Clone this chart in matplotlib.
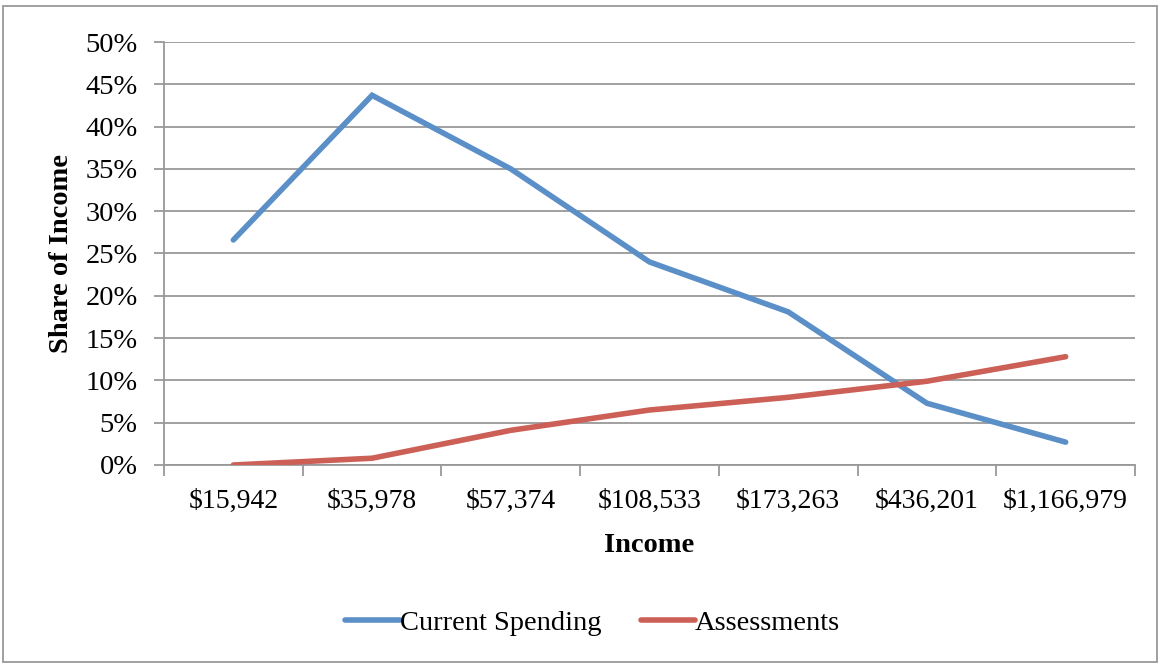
import matplotlib.pyplot as plt
from matplotlib.patches import Rectangle
from matplotlib.ticker import FixedLocator, PercentFormatter

# data
incomes = ["$15,942", "$35,978", "$57,374", "$108,533", "$173,263", "$436,201", "$1,166,979"]
current_spending = [26.6, 43.7, 35.0, 24.0, 18.1, 7.3, 2.7]
assessments = [0.0, 0.8, 4.1, 6.5, 8.0, 9.9, 12.8]

plt.rcParams['font.family'] = ['Liberation Serif', 'DejaVu Serif']

fig = plt.figure(figsize=(11.6, 6.65), dpi=100)
ax = fig.add_axes([164 / 1160, 1 - 465 / 665, (1135 - 164) / 1160, (465 - 42) / 665])

x = range(len(incomes))
ax.plot(x, current_spending, color='#5b8fc8', lw=4, solid_capstyle='round',
        solid_joinstyle='miter', label='Current Spending', zorder=3)
ax.plot(x, assessments, color='#cc5f56', lw=4, solid_capstyle='round',
        solid_joinstyle='miter', label='Assessments', zorder=3)

ax.set_xlim(-0.5, len(incomes) - 0.5)
ax.set_ylim(0, 50)
ax.set_yticks(range(0, 51, 5))
ax.yaxis.set_major_formatter(PercentFormatter(decimals=0))
ax.set_xticks(list(x))
ax.set_xticklabels(incomes)
ax.xaxis.set_minor_locator(FixedLocator([i - 0.5 for i in range(len(incomes) + 1)]))
ax.tick_params(axis='x', which='major', length=0, pad=17, labelsize=20)
ax.tick_params(axis='x', which='minor', length=8, width=1.3, color='#999999')
ax.tick_params(axis='y', length=7, width=1.3, color='#999999', labelsize=20.5, pad=12)

ax.grid(axis='y', color='#999999', lw=1.3)
ax.set_axisbelow(True)
for side in ['top', 'right']:
    ax.spines[side].set_visible(False)
for side in ['left', 'bottom']:
    ax.spines[side].set_color('#999999')
    ax.spines[side].set_linewidth(1.3)

ax.set_xlabel('Income', fontsize=20.5, fontweight='bold', labelpad=14)
ax.set_ylabel('Share of Income', fontsize=20.5, fontweight='bold', labelpad=8)

fig.legend(loc='center', bbox_to_anchor=(0.511, 1 - 623 / 665), ncol=2, frameon=False,
           fontsize=20.5, handlelength=1.9, handletextpad=0.0, columnspacing=1.4)

fig.patches.append(Rectangle((3 / 1160, 3 / 665), 1154 / 1160, 656 / 665,
                             transform=fig.transFigure, fill=False,
                             edgecolor='#999999', lw=1.3))

fig.savefig('out.png', dpi=100)
